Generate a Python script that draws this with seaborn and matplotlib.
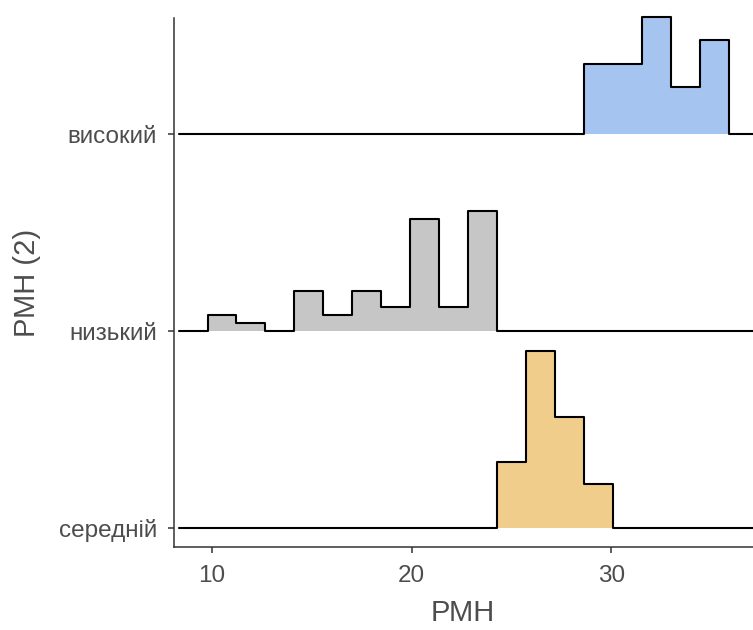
import numpy as np
import pandas as pd
import matplotlib
matplotlib.use("Agg")
import matplotlib.pyplot as plt
import seaborn as sns

# ---- data ----
categories = ["середній", "низький", "високий"]          # bottom -> top
colors = ["#F0CD8B", "#C6C6C6", "#A6C4F0"]
bin_start = 9.78
bin_width = 1.45
counts_serednii = [0, 0, 0, 0, 0, 0, 0, 0, 0, 0, 3, 8, 5, 2, 0, 0, 0, 0]
counts_nyzkyi = [2, 1, 0, 5, 2, 5, 3, 14, 3, 15, 0, 0, 0, 0, 0, 0, 0, 0]
counts_vysokyi = [0, 0, 0, 0, 0, 0, 0, 0, 0, 0, 0, 0, 0, 3, 3, 5, 2, 4]
x_ticks = [10, 20, 30]
x_label = "РМН"
y_label = "РМН (2)"

all_counts = [counts_serednii, counts_nyzkyi, counts_vysokyi]

sns.set_theme(style="ticks")
plt.rcParams["font.family"] = ["Liberation Sans", "DejaVu Sans"]

fig = plt.figure(figsize=(7.53, 6.30), dpi=100)
ax = fig.add_axes([174 / 753, 83 / 630, 1 - 174 / 753, (547 - 18) / 630])

# padded bins (empty bin each side, as in ridgeline binline)
n_bins = len(counts_serednii)
edges = bin_start + bin_width * np.arange(-1, n_bins + 2)

dens = []
for c in all_counts:
    c = np.array(c, dtype=float)
    d = c / c.sum() / bin_width
    dens.append(np.concatenate([[0], d, [0]]))
max_d = max(d.max() for d in dens)
scale = 0.9

for i in range(len(categories) - 1, -1, -1):  # top first, lower in front
    h = dens[i] / max_d * scale
    yv = np.concatenate([h, [h[-1]]]) + i
    df = pd.DataFrame({"x": edges, "y": yv})
    ax.fill_between(edges, i, yv, step="post", color=colors[i], lw=0,
                    zorder=2 + (3 - i))
    sns.lineplot(data=df, x="x", y="y", drawstyle="steps-post", color="black",
                 lw=1.5, ax=ax, zorder=2.5 + (3 - i), estimator=None, sort=False,
                 clip_on=False)

ax.set_xlim(8.1, 37.1)
ax.set_ylim(-0.0965, 2.59)
ax.set_xticks(x_ticks)
ax.set_xticklabels([str(t) for t in x_ticks])
ax.set_yticks(range(len(categories)))
ax.set_yticklabels(categories)
ax.set_xlabel("")
ax.set_ylabel("")

for s in ["top", "right"]:
    ax.spines[s].set_visible(False)
for s in ["left", "bottom"]:
    ax.spines[s].set_color("#333333")
    ax.spines[s].set_linewidth(1.1)
ax.tick_params(axis="both", colors="#333333", width=1.1, length=4.3,
               labelsize=17.5, labelcolor="#4D4D4D")
ax.tick_params(axis="x", pad=8.5)
ax.tick_params(axis="y", pad=8)

fig.text(463 / 753, 1 - 613 / 630, x_label, ha="center", va="center",
         fontsize=21, color="#4D4D4D")
fig.text(27 / 753, 1 - 282.5 / 630, y_label, ha="center", va="center",
         rotation=90, fontsize=21, color="#4D4D4D")

fig.savefig("out.png", dpi=100)
